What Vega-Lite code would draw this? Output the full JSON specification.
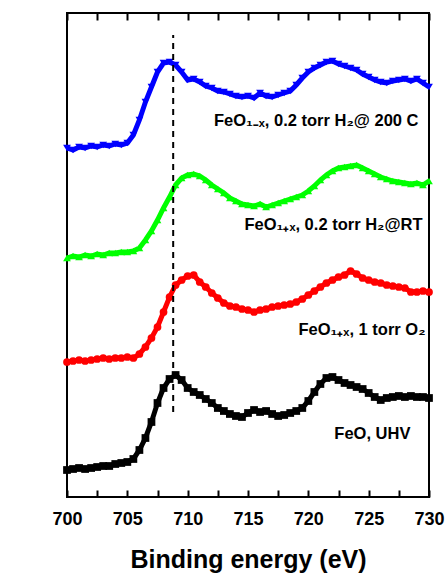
{
  "$schema": "https://vega.github.io/schema/vega-lite/v6.json",
  "width": 362,
  "height": 484,
  "autosize": {"type": "none"},
  "padding": {"left": 67, "top": 13, "right": 18, "bottom": 76},
  "config": {
    "view": {"stroke": "black", "strokeWidth": 2},
    "font": "Liberation Sans",
    "axis": {"labelFont": "Liberation Sans", "titleFont": "Liberation Sans", "labelFontWeight": "bold", "titleFontWeight": "bold", "labelColor": "black", "titleColor": "black", "ticks": true, "tickOpacity": 1}
  },
  "datasets": {
    "spectra": [
      {"series":"FeO","E":700,"I":27},{"series":"FeO","E":700.5,"I":28},{"series":"FeO","E":701,"I":29},{"series":"FeO","E":701.5,"I":28},{"series":"FeO","E":702,"I":29},{"series":"FeO","E":702.5,"I":30},{"series":"FeO","E":703,"I":31},{"series":"FeO","E":703.5,"I":31},{"series":"FeO","E":704,"I":33},{"series":"FeO","E":704.5,"I":34},{"series":"FeO","E":705,"I":35},{"series":"FeO","E":705.5,"I":38},{"series":"FeO","E":706,"I":47},{"series":"FeO","E":706.5,"I":59},{"series":"FeO","E":707,"I":75},{"series":"FeO","E":707.5,"I":94},{"series":"FeO","E":708,"I":109},{"series":"FeO","E":708.5,"I":118},{"series":"FeO","E":709,"I":122},{"series":"FeO","E":709.5,"I":117},{"series":"FeO","E":710,"I":109},{"series":"FeO","E":710.5,"I":105},{"series":"FeO","E":711,"I":102},{"series":"FeO","E":711.5,"I":98},{"series":"FeO","E":712,"I":94},{"series":"FeO","E":712.5,"I":89},{"series":"FeO","E":713,"I":86},{"series":"FeO","E":713.5,"I":83},{"series":"FeO","E":714,"I":81},{"series":"FeO","E":714.5,"I":80},{"series":"FeO","E":715,"I":84},{"series":"FeO","E":715.5,"I":87},{"series":"FeO","E":716,"I":85},{"series":"FeO","E":716.5,"I":86},{"series":"FeO","E":717,"I":83},{"series":"FeO","E":717.5,"I":81},{"series":"FeO","E":718,"I":82},{"series":"FeO","E":718.5,"I":84},{"series":"FeO","E":719,"I":86},{"series":"FeO","E":719.5,"I":89},{"series":"FeO","E":720,"I":96},{"series":"FeO","E":720.5,"I":105},{"series":"FeO","E":721,"I":113},{"series":"FeO","E":721.5,"I":119},{"series":"FeO","E":722,"I":120},{"series":"FeO","E":722.5,"I":117},{"series":"FeO","E":723,"I":114},{"series":"FeO","E":723.5,"I":112},{"series":"FeO","E":724,"I":110},{"series":"FeO","E":724.5,"I":108},{"series":"FeO","E":725,"I":104},{"series":"FeO","E":725.5,"I":100},{"series":"FeO","E":726,"I":97},{"series":"FeO","E":726.5,"I":99},{"series":"FeO","E":727,"I":100},{"series":"FeO","E":727.5,"I":101},{"series":"FeO","E":728,"I":100},{"series":"FeO","E":728.5,"I":101},{"series":"FeO","E":729,"I":100},{"series":"FeO","E":729.5,"I":100},{"series":"FeO","E":730,"I":99},
      {"series":"O2","E":700,"I":135},{"series":"O2","E":700.5,"I":136},{"series":"O2","E":701,"I":137},{"series":"O2","E":701.5,"I":136},{"series":"O2","E":702,"I":137},{"series":"O2","E":702.5,"I":138},{"series":"O2","E":703,"I":139},{"series":"O2","E":703.5,"I":138},{"series":"O2","E":704,"I":139},{"series":"O2","E":704.5,"I":139},{"series":"O2","E":705,"I":140},{"series":"O2","E":705.5,"I":139},{"series":"O2","E":706,"I":143},{"series":"O2","E":706.5,"I":150},{"series":"O2","E":707,"I":159},{"series":"O2","E":707.5,"I":170},{"series":"O2","E":708,"I":185},{"series":"O2","E":708.5,"I":200},{"series":"O2","E":709,"I":212},{"series":"O2","E":709.5,"I":217},{"series":"O2","E":710,"I":221},{"series":"O2","E":710.5,"I":222},{"series":"O2","E":711,"I":215},{"series":"O2","E":711.5,"I":210},{"series":"O2","E":712,"I":204},{"series":"O2","E":712.5,"I":199},{"series":"O2","E":713,"I":194},{"series":"O2","E":713.5,"I":191},{"series":"O2","E":714,"I":190},{"series":"O2","E":714.5,"I":188},{"series":"O2","E":715,"I":187},{"series":"O2","E":715.5,"I":185},{"series":"O2","E":716,"I":187},{"series":"O2","E":716.5,"I":188},{"series":"O2","E":717,"I":190},{"series":"O2","E":717.5,"I":191},{"series":"O2","E":718,"I":192},{"series":"O2","E":718.5,"I":193},{"series":"O2","E":719,"I":195},{"series":"O2","E":719.5,"I":198},{"series":"O2","E":720,"I":202},{"series":"O2","E":720.5,"I":206},{"series":"O2","E":721,"I":210},{"series":"O2","E":721.5,"I":214},{"series":"O2","E":722,"I":217},{"series":"O2","E":722.5,"I":220},{"series":"O2","E":723,"I":222},{"series":"O2","E":723.5,"I":226},{"series":"O2","E":724,"I":223},{"series":"O2","E":724.5,"I":219},{"series":"O2","E":725,"I":217},{"series":"O2","E":725.5,"I":215},{"series":"O2","E":726,"I":214},{"series":"O2","E":726.5,"I":212},{"series":"O2","E":727,"I":211},{"series":"O2","E":727.5,"I":210},{"series":"O2","E":728,"I":209},{"series":"O2","E":728.5,"I":205},{"series":"O2","E":729,"I":205},{"series":"O2","E":729.5,"I":206},{"series":"O2","E":730,"I":205},
      {"series":"H2RT","E":700,"I":239},{"series":"H2RT","E":700.5,"I":241},{"series":"H2RT","E":701,"I":240},{"series":"H2RT","E":701.5,"I":242},{"series":"H2RT","E":702,"I":241},{"series":"H2RT","E":702.5,"I":243},{"series":"H2RT","E":703,"I":242},{"series":"H2RT","E":703.5,"I":244},{"series":"H2RT","E":704,"I":244},{"series":"H2RT","E":704.5,"I":245},{"series":"H2RT","E":705,"I":245},{"series":"H2RT","E":705.5,"I":246},{"series":"H2RT","E":706,"I":249},{"series":"H2RT","E":706.5,"I":257},{"series":"H2RT","E":707,"I":266},{"series":"H2RT","E":707.5,"I":277},{"series":"H2RT","E":708,"I":289},{"series":"H2RT","E":708.5,"I":300},{"series":"H2RT","E":709,"I":312},{"series":"H2RT","E":709.5,"I":319},{"series":"H2RT","E":710,"I":322},{"series":"H2RT","E":710.5,"I":323},{"series":"H2RT","E":711,"I":321},{"series":"H2RT","E":711.5,"I":317},{"series":"H2RT","E":712,"I":312},{"series":"H2RT","E":712.5,"I":308},{"series":"H2RT","E":713,"I":304},{"series":"H2RT","E":713.5,"I":299},{"series":"H2RT","E":714,"I":296},{"series":"H2RT","E":714.5,"I":293},{"series":"H2RT","E":715,"I":292},{"series":"H2RT","E":715.5,"I":291},{"series":"H2RT","E":716,"I":293},{"series":"H2RT","E":716.5,"I":290},{"series":"H2RT","E":717,"I":292},{"series":"H2RT","E":717.5,"I":294},{"series":"H2RT","E":718,"I":296},{"series":"H2RT","E":718.5,"I":298},{"series":"H2RT","E":719,"I":300},{"series":"H2RT","E":719.5,"I":302},{"series":"H2RT","E":720,"I":306},{"series":"H2RT","E":720.5,"I":311},{"series":"H2RT","E":721,"I":317},{"series":"H2RT","E":721.5,"I":322},{"series":"H2RT","E":722,"I":326},{"series":"H2RT","E":722.5,"I":329},{"series":"H2RT","E":723,"I":330},{"series":"H2RT","E":723.5,"I":331},{"series":"H2RT","E":724,"I":332},{"series":"H2RT","E":724.5,"I":329},{"series":"H2RT","E":725,"I":326},{"series":"H2RT","E":725.5,"I":323},{"series":"H2RT","E":726,"I":320},{"series":"H2RT","E":726.5,"I":318},{"series":"H2RT","E":727,"I":316},{"series":"H2RT","E":727.5,"I":315},{"series":"H2RT","E":728,"I":314},{"series":"H2RT","E":728.5,"I":313},{"series":"H2RT","E":729,"I":314},{"series":"H2RT","E":729.5,"I":312},{"series":"H2RT","E":730,"I":316},
      {"series":"H2200","E":700,"I":349},{"series":"H2200","E":700.5,"I":347},{"series":"H2200","E":701,"I":350},{"series":"H2200","E":701.5,"I":349},{"series":"H2200","E":702,"I":351},{"series":"H2200","E":702.5,"I":350},{"series":"H2200","E":703,"I":352},{"series":"H2200","E":703.5,"I":351},{"series":"H2200","E":704,"I":353},{"series":"H2200","E":704.5,"I":352},{"series":"H2200","E":705,"I":354},{"series":"H2200","E":705.5,"I":362},{"series":"H2200","E":706,"I":377},{"series":"H2200","E":706.5,"I":395},{"series":"H2200","E":707,"I":410},{"series":"H2200","E":707.5,"I":425},{"series":"H2200","E":708,"I":434},{"series":"H2200","E":708.5,"I":435},{"series":"H2200","E":709,"I":432},{"series":"H2200","E":709.5,"I":425},{"series":"H2200","E":710,"I":417},{"series":"H2200","E":710.5,"I":418},{"series":"H2200","E":711,"I":415},{"series":"H2200","E":711.5,"I":411},{"series":"H2200","E":712,"I":409},{"series":"H2200","E":712.5,"I":406},{"series":"H2200","E":713,"I":405},{"series":"H2200","E":713.5,"I":403},{"series":"H2200","E":714,"I":401},{"series":"H2200","E":714.5,"I":400},{"series":"H2200","E":715,"I":401},{"series":"H2200","E":715.5,"I":399},{"series":"H2200","E":716,"I":404},{"series":"H2200","E":716.5,"I":401},{"series":"H2200","E":717,"I":400},{"series":"H2200","E":717.5,"I":402},{"series":"H2200","E":718,"I":404},{"series":"H2200","E":718.5,"I":406},{"series":"H2200","E":719,"I":412},{"series":"H2200","E":719.5,"I":419},{"series":"H2200","E":720,"I":425},{"series":"H2200","E":720.5,"I":429},{"series":"H2200","E":721,"I":432},{"series":"H2200","E":721.5,"I":435},{"series":"H2200","E":722,"I":436},{"series":"H2200","E":722.5,"I":433},{"series":"H2200","E":723,"I":431},{"series":"H2200","E":723.5,"I":429},{"series":"H2200","E":724,"I":427},{"series":"H2200","E":724.5,"I":423},{"series":"H2200","E":725,"I":420},{"series":"H2200","E":725.5,"I":417},{"series":"H2200","E":726,"I":415},{"series":"H2200","E":726.5,"I":414},{"series":"H2200","E":727,"I":416},{"series":"H2200","E":727.5,"I":417},{"series":"H2200","E":728,"I":418},{"series":"H2200","E":728.5,"I":416},{"series":"H2200","E":729,"I":418},{"series":"H2200","E":729.5,"I":414},{"series":"H2200","E":730,"I":410}
    ],
    "labels": [
      {"E": 729.13, "I": 371, "text": "FeO₁₋ₓ, 0.2 torr H₂@ 200 C"},
      {"E": 729.46, "I": 267, "text": "FeO₁₊ₓ, 0.2 torr H₂@RT"},
      {"E": 729.71, "I": 162, "text": "FeO₁₊ₓ, 1 torr O₂"},
      {"E": 728.46, "I": 58, "text": "FeO, UHV"}
    ],
    "guide": [{"E": 708.8, "I": 85, "I2": 462}]
  },
  "resolve": {"axis": {"x": "independent"}},
  "layer": [
    {
      "data": {"name": "spectra"},
      "mark": {"type": "line", "strokeWidth": 5, "point": {"size": 60, "filled": true}},
      "encoding": {
        "x": {"field": "E", "type": "quantitative", "scale": {"domain": [700, 730], "nice": false},
          "axis": {"orient": "bottom", "offset": -7, "title": "Binding energy (eV)", "titleFontSize": 25, "titlePadding": 19, "labelFontSize": 18, "values": [700,702.5,705,707.5,710,712.5,715,717.5,720,722.5,725,727.5,730], "labelExpr": "datum.value % 5 === 0 ? datum.label : ''", "ticks": true, "tickSize": 7, "tickColor": "#000000", "tickWidth": 2, "tickOpacity": 1, "labelPadding": 13, "domain": false, "grid": false, "labelFlush": false, "zindex": 1}},
        "y": {"field": "I", "type": "quantitative", "scale": {"domain": [0, 484], "nice": false},
          "axis": {"title": "Intensity (a. u.)", "titleFontSize": 26, "titlePadding": 30, "labels": false, "ticks": false, "domain": false, "grid": false}},
        "color": {"field": "series", "type": "nominal", "legend": null, "scale": {"domain": ["FeO","O2","H2RT","H2200"], "range": ["#000000","#FF0000","#00FF00","#0000FF"]}},
        "shape": {"field": "series", "type": "nominal", "legend": null, "scale": {"domain": ["FeO","O2","H2RT","H2200"], "range": ["square","circle","triangle-up","triangle-down"]}}
      }
    },
    {
      "data": {"name": "guide"},
      "mark": {"type": "rule", "strokeDash": [6, 5], "strokeWidth": 2, "color": "black"},
      "encoding": {
        "x": {"field": "E", "type": "quantitative",
          "axis": {"orient": "top", "offset": -7, "title": null, "labels": false, "values": [700,702.5,705,707.5,710,712.5,715,717.5,720,722.5,725,727.5,730], "ticks": true, "tickSize": 7, "tickColor": "#000000", "tickWidth": 2, "tickOpacity": 1, "domain": false, "grid": false, "zindex": 1}},
        "y": {"field": "I", "type": "quantitative"},
        "y2": {"field": "I2"}
      }
    },
    {
      "data": {"name": "labels"},
      "mark": {"type": "text", "align": "right", "baseline": "alphabetic", "fontSize": 16.5, "fontWeight": "bold", "font": "Liberation Sans", "color": "black"},
      "encoding": {
        "x": {"field": "E", "type": "quantitative", "axis": null},
        "y": {"field": "I", "type": "quantitative", "axis": null},
        "text": {"field": "text"}
      }
    }
  ]
}
